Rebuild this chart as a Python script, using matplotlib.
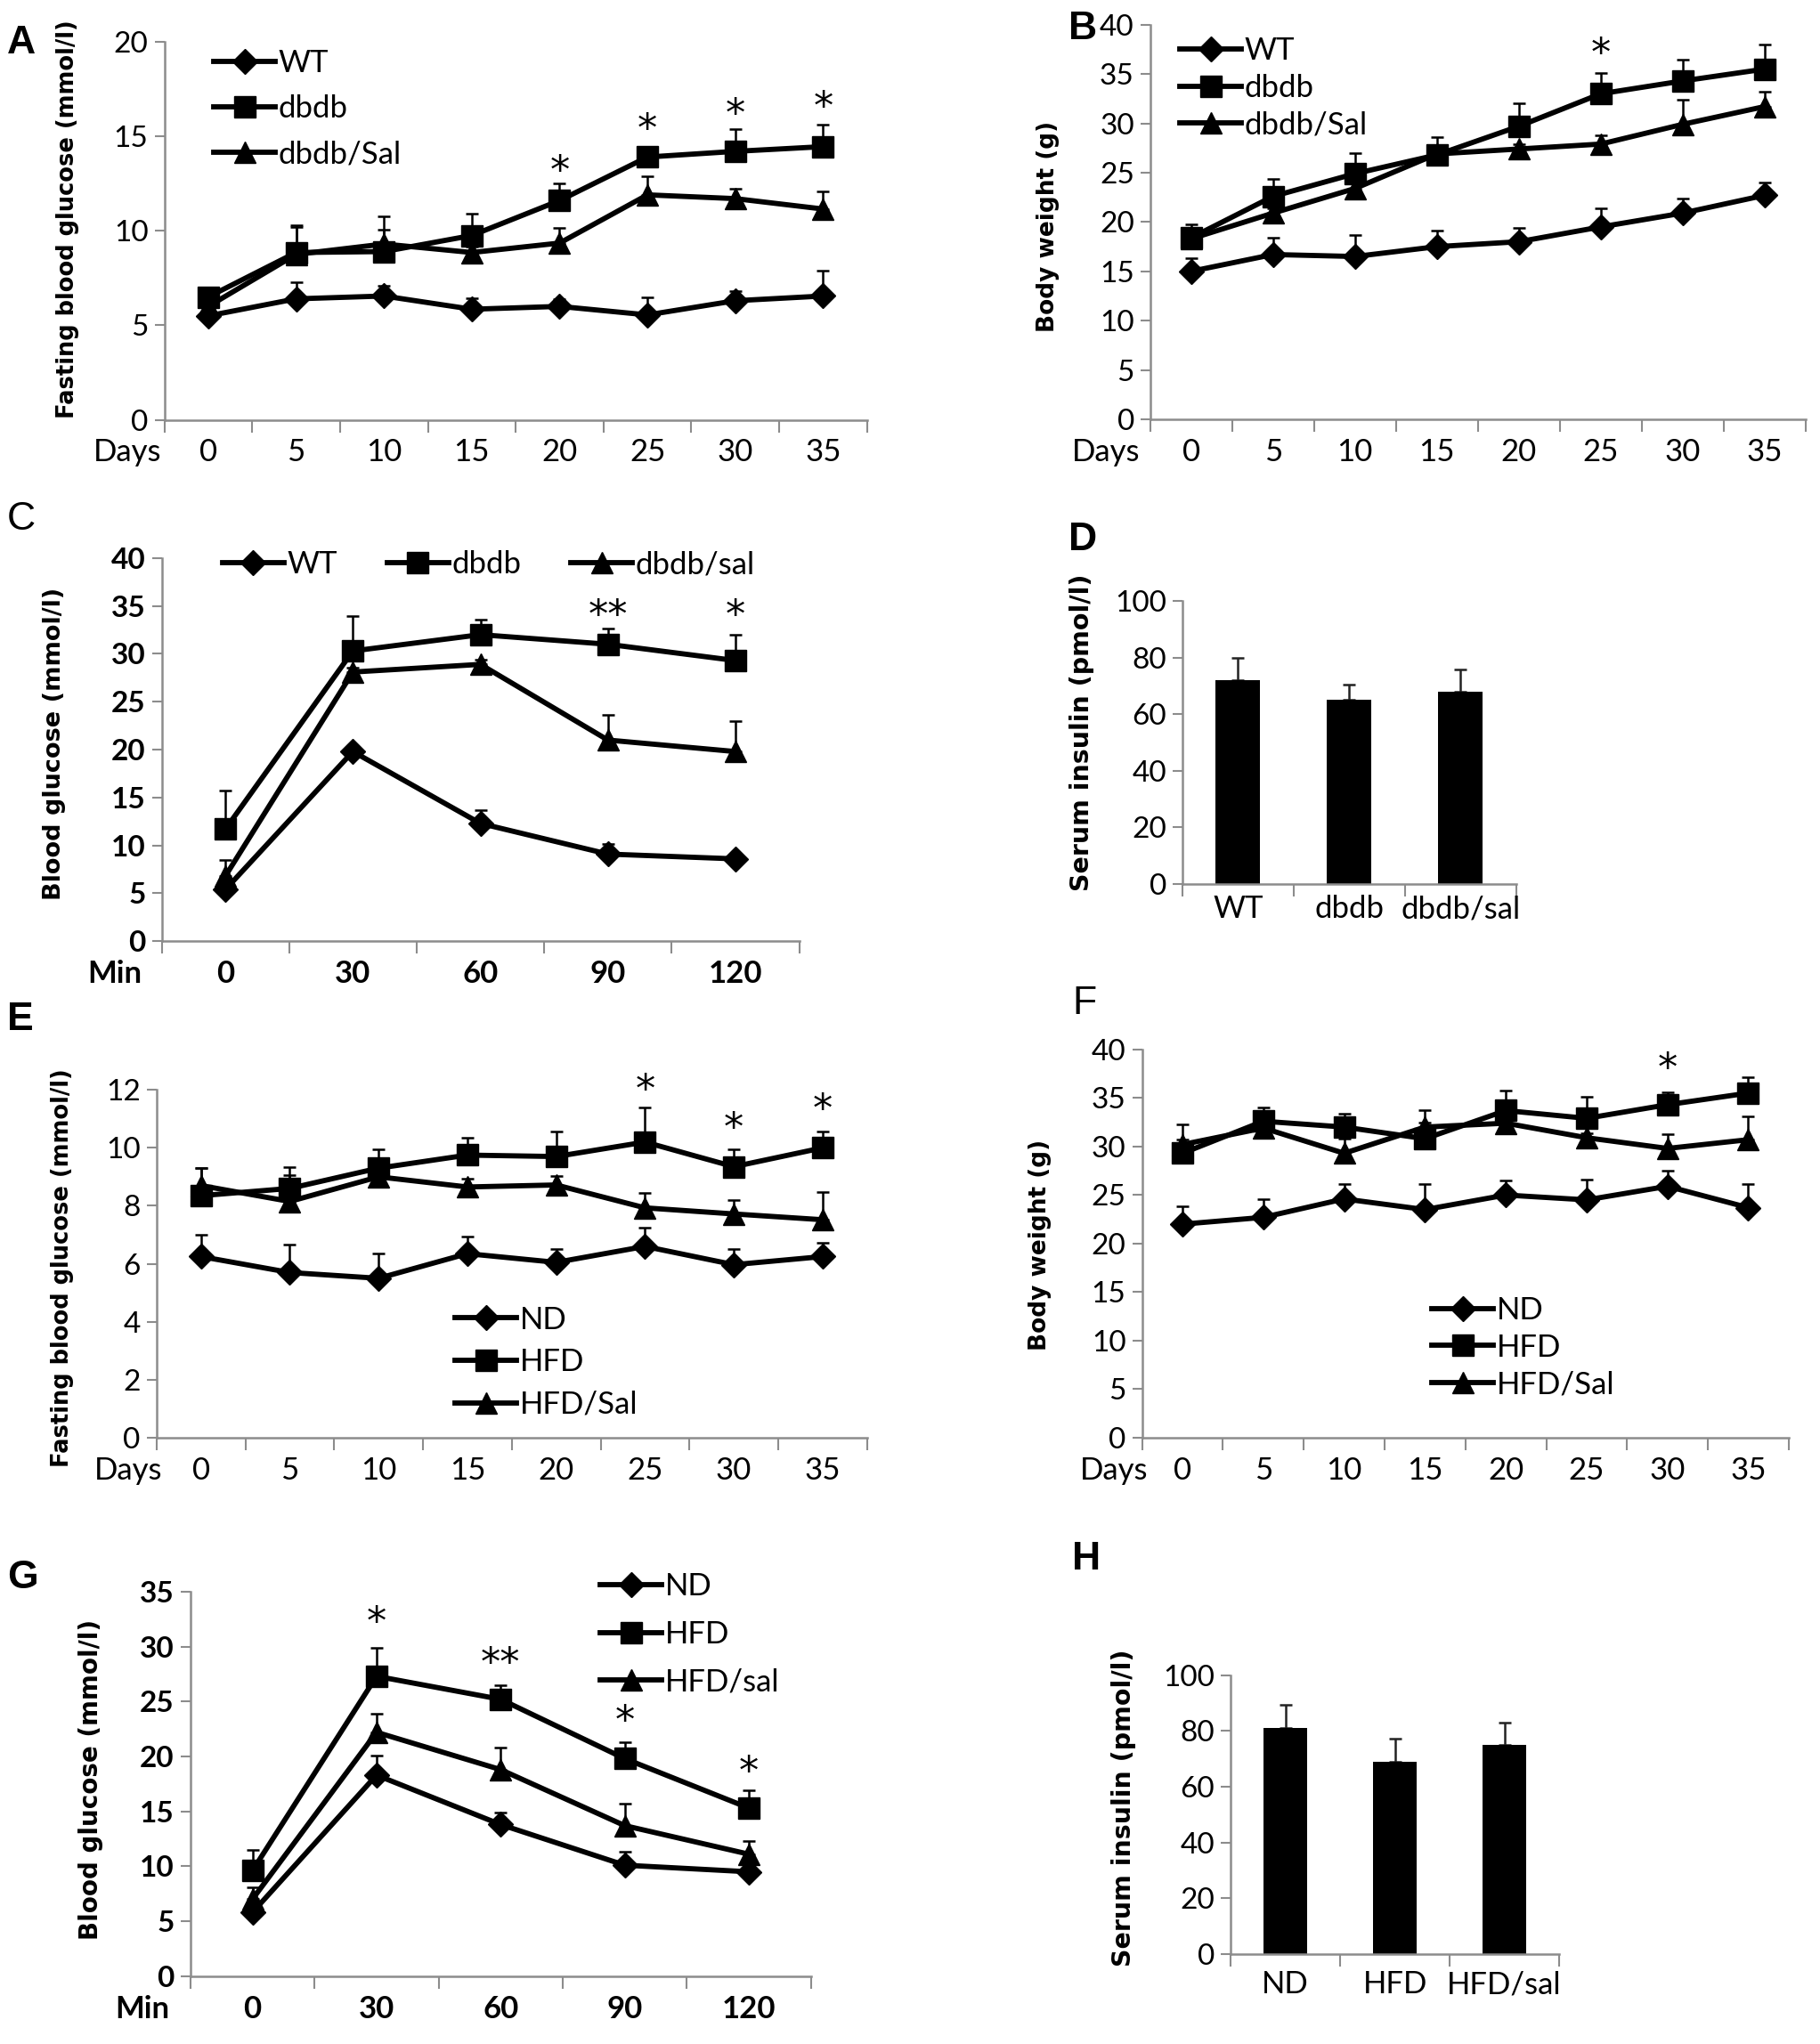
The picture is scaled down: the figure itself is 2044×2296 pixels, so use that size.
import matplotlib

matplotlib.use("Agg")
import matplotlib.pyplot as plt
import numpy as np
from matplotlib.lines import Line2D

NARROW = ["Lato", "DejaVu Sans"]
BOLD_LABEL = "DejaVu Sans"
SPINE = "#8c8c8c"

DAYS = ["0", "5", "10", "15", "20", "25", "30", "35"]
MINUTES = ["0", "30", "60", "90", "120"]

# A: fasting blood glucose, db/db mice
A_LABELS = ["WT", "dbdb", "dbdb/Sal"]
A_WT = [5.5, 6.4, 6.55, 5.85, 6.0, 5.55, 6.3, 6.55]
A_WT_ERR = [0.3, 0.9, 0.55, 0.6, 0.4, 0.95, 0.5, 1.35]
A_DB = [6.5, 8.85, 8.9, 9.75, 11.6, 13.9, 14.2, 14.45]
A_DB_ERR = [0.3, 1.35, 1.15, 1.15, 0.9, 0.5, 1.2, 1.15]
A_SAL = [6.0, 8.75, 9.3, 8.85, 9.35, 11.9, 11.7, 11.15]
A_SAL_ERR = [0.2, 1.55, 1.45, 0.3, 0.8, 1.0, 0.5, 0.95]
A_STARS = [(4, 13.1, "*"), (5, 15.3, "*"), (6, 16.1, "*"), (7, 16.5, "*")]

# B: body weight, db/db mice
B_WT = [15.0, 16.7, 16.5, 17.5, 18.0, 19.5, 20.9, 22.7]
B_WT_ERR = [1.3, 1.7, 2.2, 1.6, 1.4, 1.9, 1.5, 1.3]
B_DB = [18.4, 22.6, 24.9, 26.8, 29.7, 33.0, 34.3, 35.5]
B_DB_ERR = [1.4, 1.8, 2.1, 1.8, 2.3, 2.1, 2.2, 2.5]
B_SAL = [18.3, 20.9, 23.4, 26.9, 27.4, 27.9, 29.9, 31.7]
B_SAL_ERR = [0.5, 0.5, 0.5, 0.5, 0.5, 0.9, 2.5, 1.5]
B_STARS = [(5, 37.0, "*")]

# C: glucose tolerance, db/db mice
C_LABELS = ["WT", "dbdb", "dbdb/sal"]
C_WT = [5.4, 19.8, 12.3, 9.1, 8.6]
C_WT_ERR = [0.3, 0.6, 1.4, 1.1, 0.2]
C_DB = [11.7, 30.3, 32.0, 31.0, 29.3]
C_DB_ERR = [4.0, 3.6, 1.6, 1.6, 2.7]
C_SAL = [6.8, 28.1, 28.9, 21.0, 19.8]
C_SAL_ERR = [1.7, 0.5, 0.5, 2.6, 3.2]
C_STARS = [(3, 33.9, "**"), (4, 33.9, "*")]

# D: serum insulin, db/db mice
D_GROUPS = ["WT", "dbdb", "dbdb/sal"]
D_INSULIN = [72, 65, 68]
D_ERR = [8.0, 5.5, 7.8]

# E: fasting blood glucose, HFD mice
E_LABELS = ["ND", "HFD", "HFD/Sal"]
E_ND = [6.25, 5.7, 5.5, 6.35, 6.05, 6.6, 5.97, 6.25]
E_ND_ERR = [0.75, 0.95, 0.85, 0.6, 0.45, 0.65, 0.53, 0.48]
E_HFD = [8.35, 8.6, 9.3, 9.75, 9.7, 10.2, 9.35, 10.0]
E_HFD_ERR = [0.95, 0.75, 0.65, 0.6, 0.85, 1.2, 0.6, 0.57]
E_SAL = [8.7, 8.15, 9.0, 8.65, 8.72, 7.93, 7.72, 7.52]
E_SAL_ERR = [0.6, 0.9, 0.3, 0.3, 0.3, 0.52, 0.48, 0.97]
E_STARS = [(5, 11.95, "*"), (6, 10.65, "*"), (7, 11.3, "*")]

# F: body weight, HFD mice
F_ND = [22.0, 22.7, 24.6, 23.5, 25.0, 24.5, 25.9, 23.7]
F_ND_ERR = [1.8, 1.9, 1.5, 2.6, 1.5, 2.1, 1.6, 2.4]
F_HFD = [29.3, 32.6, 32.0, 30.8, 33.7, 32.9, 34.3, 35.5]
F_HFD_ERR = [3.0, 1.4, 1.4, 2.9, 2.1, 2.2, 1.3, 1.6]
F_SAL = [30.2, 31.9, 29.3, 32.0, 32.4, 30.9, 29.8, 30.7]
F_SAL_ERR = [0.5, 0.5, 1.5, 0.5, 0.5, 0.5, 1.5, 2.4]
F_STARS = [(6, 37.9, "*")]

# G: glucose tolerance, HFD mice
G_LABELS = ["ND", "HFD", "HFD/sal"]
G_ND = [5.8, 18.3, 13.8, 10.1, 9.5]
G_ND_ERR = [0.5, 1.8, 1.1, 1.2, 0.2]
G_HFD = [9.6, 27.3, 25.2, 19.8, 15.3]
G_HFD_ERR = [1.9, 2.6, 1.3, 1.5, 1.6]
G_SAL = [7.0, 22.2, 18.8, 13.7, 11.1]
G_SAL_ERR = [1.1, 1.7, 2.0, 2.0, 1.2]
G_STARS = [(1, 32.1, "*"), (2, 28.4, "**"), (3, 23.1, "*"), (4, 18.5, "*")]

# H: serum insulin, HFD mice
H_GROUPS = ["ND", "HFD", "HFD/sal"]
H_INSULIN = [81, 69, 75]
H_ERR = [8.3, 8.3, 8.1]

MARKERS = [("D", 14), ("s", 17), ("^", 17)]

fig = plt.figure(figsize=(20.44, 22.96), dpi=100)


def _axes(rect):
    ax = fig.add_axes(rect)
    for side in ("top", "right"):
        ax.spines[side].set_visible(False)
    for side in ("left", "bottom"):
        ax.spines[side].set_color(SPINE)
        ax.spines[side].set_linewidth(1.8)
    return ax


def _category_axis(ax, cats, pad, size, weight):
    n = len(cats)
    ax.set_xlim(-0.5, n - 0.5)
    ax.set_xticks(np.arange(n + 1) - 0.5)
    ax.set_xticklabels([])
    ax.set_xticks(np.arange(n), minor=True)
    ax.set_xticklabels(cats, minor=True, fontsize=size, family=NARROW,
                       fontweight=weight)
    ax.tick_params(axis="x", which="major", length=10, width=1.5,
                   color=SPINE, direction="out")
    ax.tick_params(axis="x", which="minor", length=0, pad=pad)


def _y_axis(ax, ylim, step, size, weight):
    ax.set_ylim(*ylim)
    ticks = np.arange(ylim[0], ylim[1] + step / 2, step)
    ax.set_yticks(ticks)
    ax.set_yticklabels([f"{t:g}" for t in ticks], fontsize=size,
                       family=NARROW, fontweight=weight)
    ax.tick_params(axis="y", length=8, width=1.5, color=SPINE, pad=5)


def line_panel(rect, cats, series, errs, ylim, step, stars, xname,
               name_x, bold=False):
    ax = _axes(rect)
    x = np.arange(len(cats))
    weight = "bold" if bold else "normal"
    for (mk, ms), y, e in zip(MARKERS, series, errs):
        ax.errorbar(x, y, yerr=[np.zeros(len(e)), e], fmt="none",
                    ecolor="black", elinewidth=1.8, capsize=5,
                    capthick=1.8, zorder=2)
        ax.plot(x, y, color="black", lw=4.2, marker=mk, ms=ms,
                mfc="black", mec="black", zorder=3)
    for i, yv, s in stars:
        ax.text(i, yv, s, ha="center", va="center", fontsize=32,
                family="DejaVu Sans")
    _category_axis(ax, cats, 15, 25, weight)
    _y_axis(ax, ylim, step, 24, weight)
    ax.annotate(xname, xy=(name_x, 0), xycoords="axes fraction",
                xytext=(0, -15), textcoords="offset points", ha="center",
                va="top", fontsize=25, family=NARROW, fontweight=weight)
    return ax


def bar_panel(rect, groups, vals, errs, pad):
    ax = _axes(rect)
    x = np.arange(len(groups))
    ax.bar(x, vals, width=0.4, color="black", zorder=2)
    ax.errorbar(x, vals, yerr=[np.zeros(len(errs)), errs], fmt="none",
                ecolor="#222222", elinewidth=1.8, capsize=5, capthick=1.8,
                zorder=1)
    _category_axis(ax, groups, pad, 25, "normal")
    _y_axis(ax, (0, 100), 20, 24, "normal")
    return ax


def add_legend(ax, labels, anchor, ncol=1, spacing=0.9, colsp=2.0):
    handles = [Line2D([], [], color="black", lw=4.2, marker=mk, ms=ms)
               for mk, ms in MARKERS]
    ax.legend(handles, labels, loc="upper left", bbox_to_anchor=anchor,
              ncol=ncol, frameon=False, handlelength=2.0,
              handletextpad=0.1, labelspacing=spacing, columnspacing=colsp,
              borderaxespad=0, borderpad=0,
              prop={"family": NARROW, "size": 25})


def ylabel(x, y, text, size):
    fig.text(x, y, text, rotation=90, ha="center", va="center",
             fontsize=size, fontweight="bold", family=BOLD_LABEL)


def panel_letter(x, y, letter, bold=True):
    fig.text(x, y, letter, ha="left", va="center", fontsize=32,
             fontweight="bold" if bold else "normal",
             family="Liberation Sans")


# ---- A
ax = line_panel([0.0903, 0.7946, 0.3861, 0.1850], DAYS,
                [A_WT, A_DB, A_SAL], [A_WT_ERR, A_DB_ERR, A_SAL_ERR],
                (0, 20), 5, A_STARS, "Days", -0.052)
add_legend(ax, A_LABELS, (0.07, 0.98), spacing=0.55)
ylabel(0.037, 0.893, "Fasting blood glucose (mmol/l)", 18.5)
panel_letter(0.004, 0.979, "A")

# ---- B
ax = line_panel([0.632, 0.7949, 0.360, 0.1930], DAYS,
                [B_WT, B_DB, B_SAL], [B_WT_ERR, B_DB_ERR, B_SAL_ERR],
                (0, 40), 5, B_STARS, "Days", -0.068)
add_legend(ax, A_LABELS, (0.045, 0.97), spacing=0.28)
ylabel(0.576, 0.889, "Body weight (g)", 19)
panel_letter(0.587, 0.986, "B")

# ---- C
ax = line_panel([0.0888, 0.5395, 0.3503, 0.1875], MINUTES,
                [C_WT, C_DB, C_SAL], [C_WT_ERR, C_DB_ERR, C_SAL_ERR],
                (0, 40), 5, C_STARS, "Min", -0.074, bold=True)
add_legend(ax, C_LABELS, (0.095, 1.02), ncol=3, colsp=1.6)
ylabel(0.030, 0.636, "Blood glucose (mmol/l)", 19.5)
panel_letter(0.004, 0.746, "C", bold=False)

# ---- D
ax = bar_panel([0.6497, 0.5676, 0.1834, 0.1384], D_GROUPS, D_INSULIN,
               D_ERR, 9)
ylabel(0.5946, 0.6416, "Serum insulin (pmol/l)", 20.5)
panel_letter(0.587, 0.736, "D")

# ---- E
ax = line_panel([0.086, 0.2966, 0.3904, 0.1702], DAYS,
                [E_ND, E_HFD, E_SAL], [E_ND_ERR, E_HFD_ERR, E_SAL_ERR],
                (0, 12), 2, E_STARS, "Days", -0.04)
add_legend(ax, E_LABELS, (0.42, 0.38), spacing=0.45)
ylabel(0.0344, 0.3796, "Fasting blood glucose (mmol/l)", 18.5)
panel_letter(0.004, 0.501, "E")

# ---- F
ax = line_panel([0.6275, 0.2966, 0.3553, 0.1900], DAYS,
                [F_ND, F_HFD, F_SAL], [F_ND_ERR, F_HFD_ERR, F_SAL_ERR],
                (0, 40), 5, F_STARS, "Days", -0.044)
add_legend(ax, E_LABELS, (0.448, 0.365), spacing=0.28)
ylabel(0.5716, 0.391, "Body weight (g)", 19)
panel_letter(0.589, 0.509, "F", bold=False)

# ---- G
ax = line_panel([0.1046, 0.0332, 0.3410, 0.1881], MINUTES,
                [G_ND, G_HFD, G_SAL], [G_ND_ERR, G_HFD_ERR, G_SAL_ERR],
                (0, 35), 5, G_STARS, "Min", -0.078, bold=True)
add_legend(ax, G_LABELS, (0.66, 1.05), spacing=0.62)
ylabel(0.0501, 0.1294, "Blood glucose (mmol/l)", 20)
panel_letter(0.004, 0.228, "G")

# ---- H
ax = bar_panel([0.6762, 0.0440, 0.1805, 0.1365], H_GROUPS, H_INSULIN,
               H_ERR, 13)
ylabel(0.6175, 0.1157, "Serum insulin (pmol/l)", 20.5)
panel_letter(0.589, 0.237, "H")

fig.savefig("out.png", dpi=100, facecolor="white")
